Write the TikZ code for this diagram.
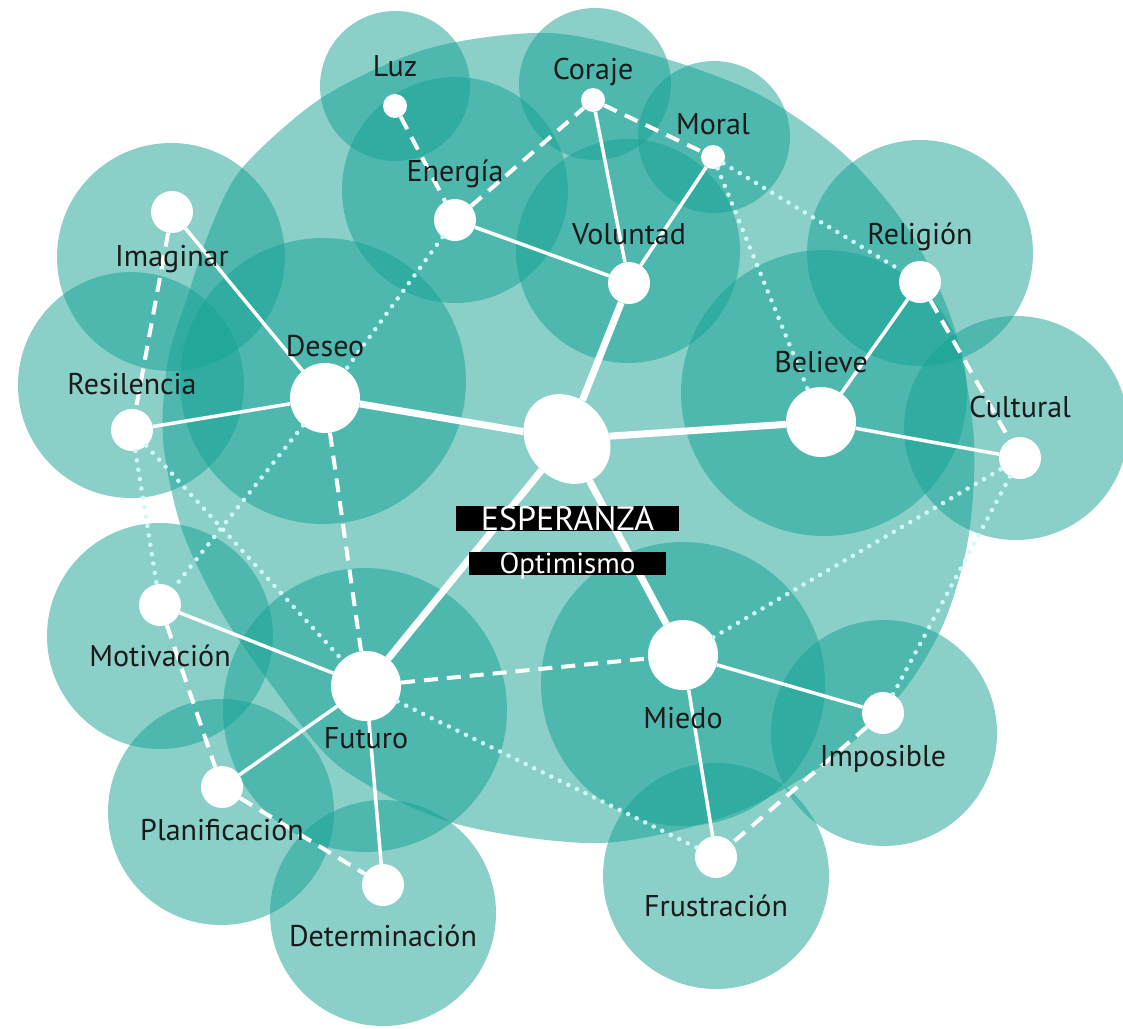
\documentclass[tikz,border=0pt]{standalone}
\usepackage{fontspec}
\setmainfont{PT Sans}
\usetikzlibrary{positioning,shapes.geometric}
\definecolor{halocol}{RGB}{21,161,147}
\definecolor{dotcol}{RGB}{208,250,250}
\definecolor{ink}{RGB}{26,26,26}

\begin{document}
\begin{tikzpicture}[x=1pt,y=-1pt,
  halo/.style={fill=halocol,fill opacity=0.5},
  hub node/.style={ellipse,fill=white,inner sep=0pt,minimum width=96pt,minimum height=80pt,rotate=-50},
  big node/.style={circle,fill=white,inner sep=0pt,minimum size=70pt},
  main node/.style={circle,fill=white,inner sep=0pt,minimum size=42pt},
  small node/.style={circle,fill=white,inner sep=0pt,minimum size=24pt},
  label node/.style={text=ink,inner sep=0pt,font=\fontsize{30}{32}\selectfont,text height=20pt,text depth=6pt},
  title node/.style={fill=black,text=white,inner sep=0pt},
  thick link/.style={draw=white,line width=7pt},
  thin link/.style={draw=white,line width=3.5pt},
  dash link/.style={draw=white,line width=4pt,dash pattern=on 14pt off 9pt},
  dot link/.style={draw=dotcol,line width=4.5pt,line cap=round,dash pattern=on 0pt off 9.5pt}]
  \useasboundingbox (0,0) rectangle (1123,1028);
  \clip (0,0) rectangle (1123,1028);

  \fill[halo] plot[smooth cycle] coordinates {(550,33) (660,57) (760,95) (845,155) (912,235)
    (955,330) (974,440) (968,540) (943,625) (900,695) (830,760) (730,815) (600,843)
    (453,823) (340,767) (273,687) (222,613) (182,530) (163,440) (168,360) (188,295)
    (212,225) (243,167) (323,97) (430,48)};
  \fill[halo] (395,86) circle (75pt);
  \fill[halo] (595,84) circle (76pt);
  \fill[halo] (714,137) circle (76pt);
  \fill[halo] (455,190) circle (113pt);
  \fill[halo] (628,251) circle (112pt);
  \fill[halo] (920,253) circle (113pt);
  \fill[halo] (824,393) circle (143pt);
  \fill[halo] (1016,428) circle (112pt);
  \fill[halo] (171,257) circle (114pt);
  \fill[halo] (131,385) circle (113pt);
  \fill[halo] (323,381) circle (143pt);
  \fill[halo] (160,636) circle (113pt);
  \fill[halo] (365,710) circle (142pt);
  \fill[halo] (683,684) circle (142pt);
  \fill[halo] (884,733) circle (113pt);
  \fill[halo] (221,812) circle (113pt);
  \fill[halo] (383,913) circle (113pt);
  \fill[halo] (716,876) circle (113pt);

  \node[hub node] (0) at (567,439) {};
  \node[small node] (1) at (395,106) {};
  \node[small node] (2) at (593,100) {};
  \node[small node] (3) at (713,157) {};
  \node[main node] (4) at (455,220) {};
  \node[main node] (5) at (629,283) {};
  \node[main node] (6) at (920,282) {};
  \node[main node] (7) at (172,212) {};
  \node[big node] (8) at (325,398) {};
  \node[big node] (9) at (821,422) {};
  \node[main node] (10) at (132,430) {};
  \node[main node] (11) at (1020,458) {};
  \node[main node] (12) at (160,605) {};
  \node[big node] (13) at (366,686) {};
  \node[big node] (14) at (683,655) {};
  \node[main node] (15) at (883,713) {};
  \node[main node] (16) at (222,787) {};
  \node[main node] (17) at (383,885) {};
  \node[main node] (18) at (716,857) {};

  \path[thick link]
    (0) edge (8)
    (0) edge (9)
    (0) edge (5)
    (0) edge (13)
    (0) edge (14);
  \path[thin link]
    (7) edge (8)
    (10) edge (8)
    (4) edge (5)
    (2) edge (5)
    (3) edge (5)
    (6) edge (9)
    (9) edge (11)
    (12) edge (13)
    (16) edge (13)
    (17) edge (13)
    (14) edge (15)
    (14) edge (18);
  \path[dash link]
    (1) edge (4)
    (4) edge (2)
    (2) edge (3)
    (7) edge (10)
    (8) edge (13)
    (13) edge (14)
    (12) edge (16)
    (16) edge (17)
    (6) edge (11)
    (15) edge (18);
  \path[dot link]
    (4) edge (8)
    (3) edge (9)
    (3) edge (6)
    (10) edge (12)
    (10) edge (13)
    (8) edge (12)
    (13) edge (18)
    (14) edge (11)
    (11) edge (15);

  \node[label node] (1t) [above=11pt of 1] {Luz};
  \node[label node] (2t) [above=2pt of 2] {Coraje};
  \node[label node] (3t) [above=4pt of 3] {Moral};
  \node[label node] (4t) [above=11pt of 4] {Energía};
  \node[label node] (5t) [above=11pt of 5] {Voluntad};
  \node[label node] (6t) [above=10pt of 6] {Religión};
  \node[label node] (7t) [below=13pt of 7] {Imaginar};
  \node[label node] (8t) [above=0pt of 8] {Deseo};
  \node[label node] (9t) [above=8pt of 9] {Believe};
  \node[label node] (10t) [above=8pt of 10] {Resilencia};
  \node[label node] (11t) [above=13pt of 11] {Cultural};
  \node[label node] (12t) [below=20pt of 12] {Motivación};
  \node[label node] (13t) [below=7pt of 13] {Futuro};
  \node[label node] (14t) [below=18pt of 14] {Miedo};
  \node[label node] (15t) [below=12pt of 15] {Imposible};
  \node[label node] (16t) [below=12pt of 16] {Planificación};
  \node[label node] (17t) [below=20pt of 17] {Determinación};
  \node[label node] (18t) [below=18pt of 18] {Frustración};

  \node[title node,minimum width=223pt,minimum height=25pt,text height=24pt,text depth=1pt,
    font=\fontsize{34}{36}\selectfont] (e) at (567.5,518.5) {ESPERANZA};
  \node[title node,minimum width=197pt,minimum height=23pt,text height=21pt,text depth=2pt,
    font=\fontsize{29}{31}\selectfont] (o) [below=21pt of e] {Optimismo};
\end{tikzpicture}
\end{document}
